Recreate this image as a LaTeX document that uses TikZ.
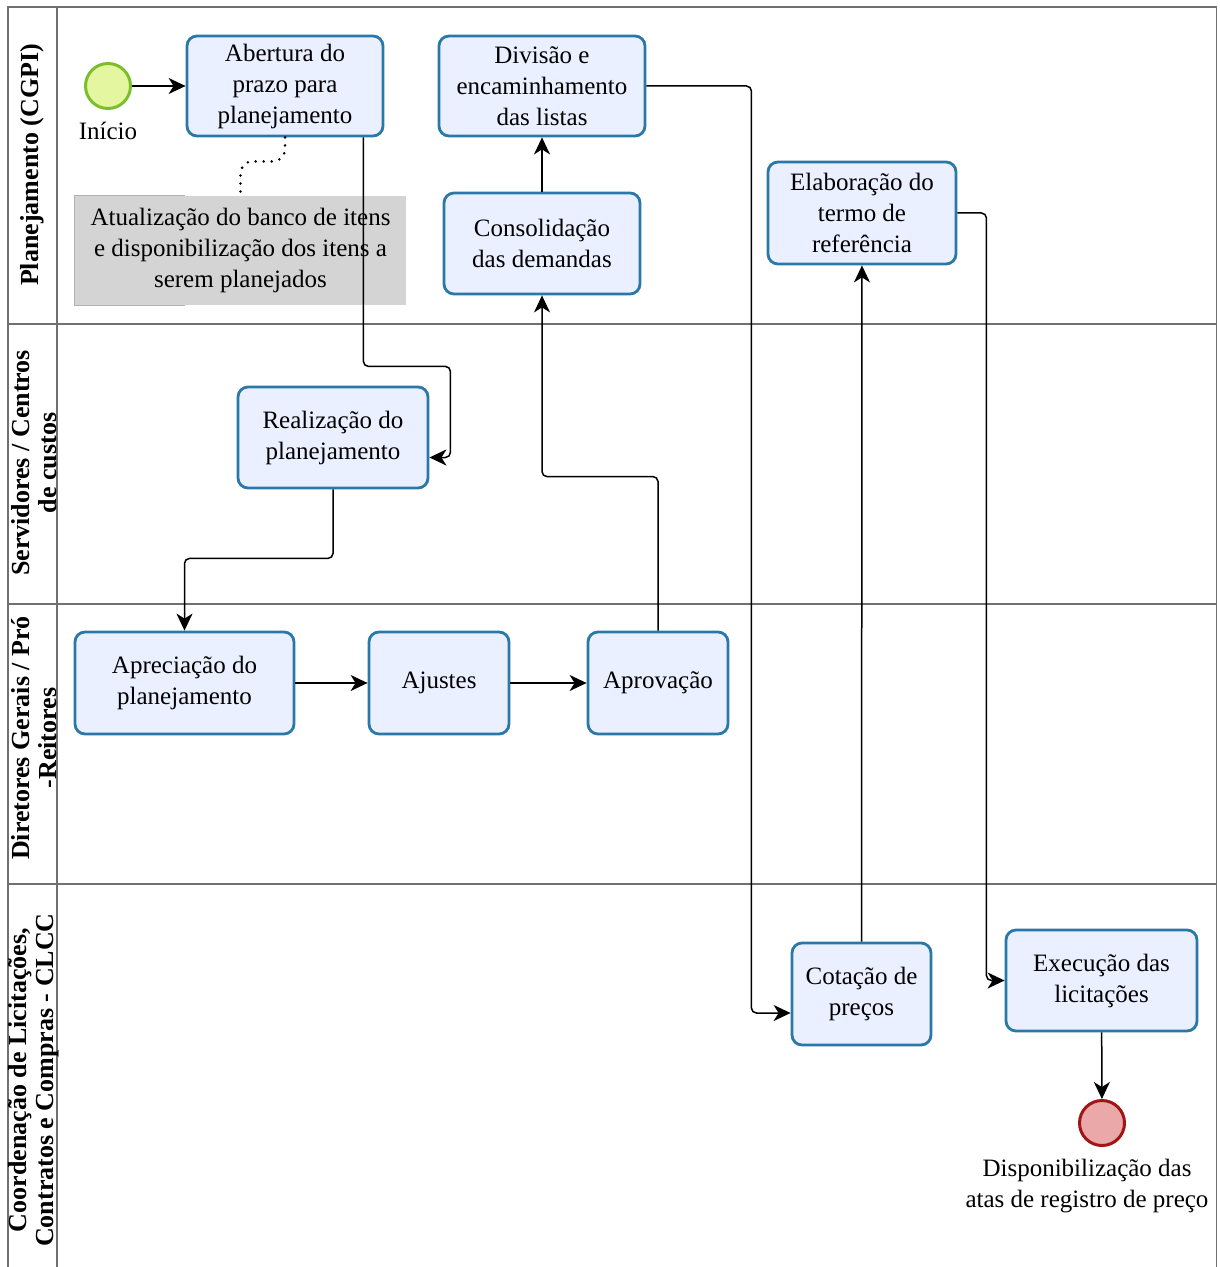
\documentclass[tikz,border=0pt]{standalone}
\usepackage{fontspec}
\setmainfont{Liberation Serif}
\usetikzlibrary{arrows.meta}
\definecolor{taskfill}{HTML}{EAF0FF}
\definecolor{taskline}{HTML}{2A78A8}
\definecolor{startfill}{HTML}{E4F7A0}
\definecolor{startline}{HTML}{7DBE2E}
\definecolor{endfill}{HTML}{EBA8A8}
\definecolor{endline}{HTML}{A01515}
\definecolor{notefill}{HTML}{D4D4D4}
\definecolor{laneline}{HTML}{707070}
\newcommand{\txt}{\fontsize{12.5}{15.5}\selectfont}
\tikzset{
  task/.style={rectangle,rounded corners=5pt,draw=taskline,line width=1.4pt,
    fill=taskfill,align=center,inner sep=1pt,font=\txt},
  event/.style={circle,minimum size=22.5pt,inner sep=0pt,line width=1.5pt},
  note/.style={rectangle,fill=notefill,align=center,inner sep=1pt,font=\txt},
  flow/.style={-{Stealth[length=8.5pt,width=8pt,inset=2.5pt]},line width=0.75pt,rounded corners=2.5pt},
  lane/.style={draw=laneline,line width=0.8pt},
  lanelabel/.style={rotate=90,align=center,font=\bfseries\fontsize{13}{13.5}\selectfont},
}

\begin{document}
\begin{tikzpicture}[x=0.5pt,y=-0.5pt]
  \useasboundingbox (0,0) rectangle (1219,1267);
  \clip (0,0) rectangle (1219,1267);
  % lanes
  \draw[lane] (8,7) rectangle (1216.5,1280);
  \draw[lane] (57,7) -- (57,1280);
  \foreach \y in {324,604,884}
    \draw[lane] (8,\y) -- (1216.5,\y);
  \node[lanelabel] (lane1) at (32,165) {Planejamento (CGPI)};
  \node[lanelabel] (lane2) at (34,463) {Servidores / Centros\\de custos};
  \node[lanelabel] (lane3) at (34,738) {Diretores Gerais / Pró\\-Reitores};
  \node[lanelabel] (lane4) at (34,1080) {Coordenação de Licitações,\\Contratos e Compras - CLCC};

  % events and tasks
  \node[event,draw=startline,fill=startfill] (inicio) at (108,86) {};
  \node[font=\txt] (iniciolabel) at (108,131) {Início};
  \node[task,minimum width=98pt,minimum height=50pt] (abertura) at (285,86) {Abertura do\\prazo para\\planejamento};
  \node[task,minimum width=103pt,minimum height=50pt] (divisao) at (542,86) {Divisão e\\encaminhamento\\das listas};
  \node[note,minimum width=165.5pt,minimum height=54.5pt] (nota) at (240.5,250.5) {Atualização do banco de itens\\e disponibilização dos itens a\\serem planejados};
  \node[task,minimum width=98pt,minimum height=50.5pt] (consolidacao) at (542,243.5) {Consolidação\\das demandas};
  \node[task,minimum width=94pt,minimum height=51pt] (elaboracao) at (862,213) {Elaboração do\\termo de\\referência};
  \node[task,minimum width=95pt,minimum height=50.5pt] (realizacao) at (333,437.5) {Realização do\\planejamento};
  \node[task,minimum width=109.5pt,minimum height=51pt] (apreciacao) at (184.5,683) {Apreciação do\\planejamento};
  \node[task,minimum width=70pt,minimum height=51pt] (ajustes) at (439,683) {Ajustes};
  \node[task,minimum width=70pt,minimum height=51pt] (aprovacao) at (658,683) {Aprovação};
  \node[task,minimum width=69.5pt,minimum height=51pt] (cotacao) at (861.5,994) {Cotação de\\preços};
  \node[task,minimum width=95.5pt,minimum height=50.5pt] (execucao) at (1101.5,980.5) {Execução das\\licitações};
  \node[event,draw=endline,fill=endfill] (fim) at (1102,1123) {};
  \node[font=\txt,align=center] (fimlabel) at (1087,1186) {Disponibilização das\\atas de registro de preço};

  % annotation bracket and association
  \draw[gray!60,line width=0.8pt] ([xshift=55pt]nota.north west) -- (nota.north west)
    -- (nota.south west) -- ([xshift=55pt]nota.south west);
  \draw[line width=1.4pt,line cap=round,dash pattern=on 0pt off 4pt,rounded corners=6pt]
    (abertura.south) -- ++(0,24) -| (nota.north);

  % sequence flows
  \path[flow] (inicio) edge (abertura);
  \draw[flow] ([xshift=-10.5pt]abertura.south east) -- ++(0,229) -- ++(87,0)
    |- ([yshift=-10pt]realizacao.east);
  \draw[flow] (realizacao.south) -- ++(0,69) -| (apreciacao.north);
  \path[flow] (apreciacao) edge (ajustes);
  \path[flow] (ajustes) edge (aprovacao);
  \draw[flow] (aprovacao.north) -- ++(0,-154) -| (consolidacao.south);
  \path[flow] (consolidacao) edge (divisao);
  \draw[flow] (divisao.east) -- ++(105,0) |- ([yshift=-9.5pt]cotacao.west);
  \path[flow] (cotacao) edge (elaboracao);
  \draw[flow] (elaboracao.east) -- ++(29,0) |- (execucao.west);
  \path[flow] (execucao) edge (fim);
\end{tikzpicture}
\end{document}
